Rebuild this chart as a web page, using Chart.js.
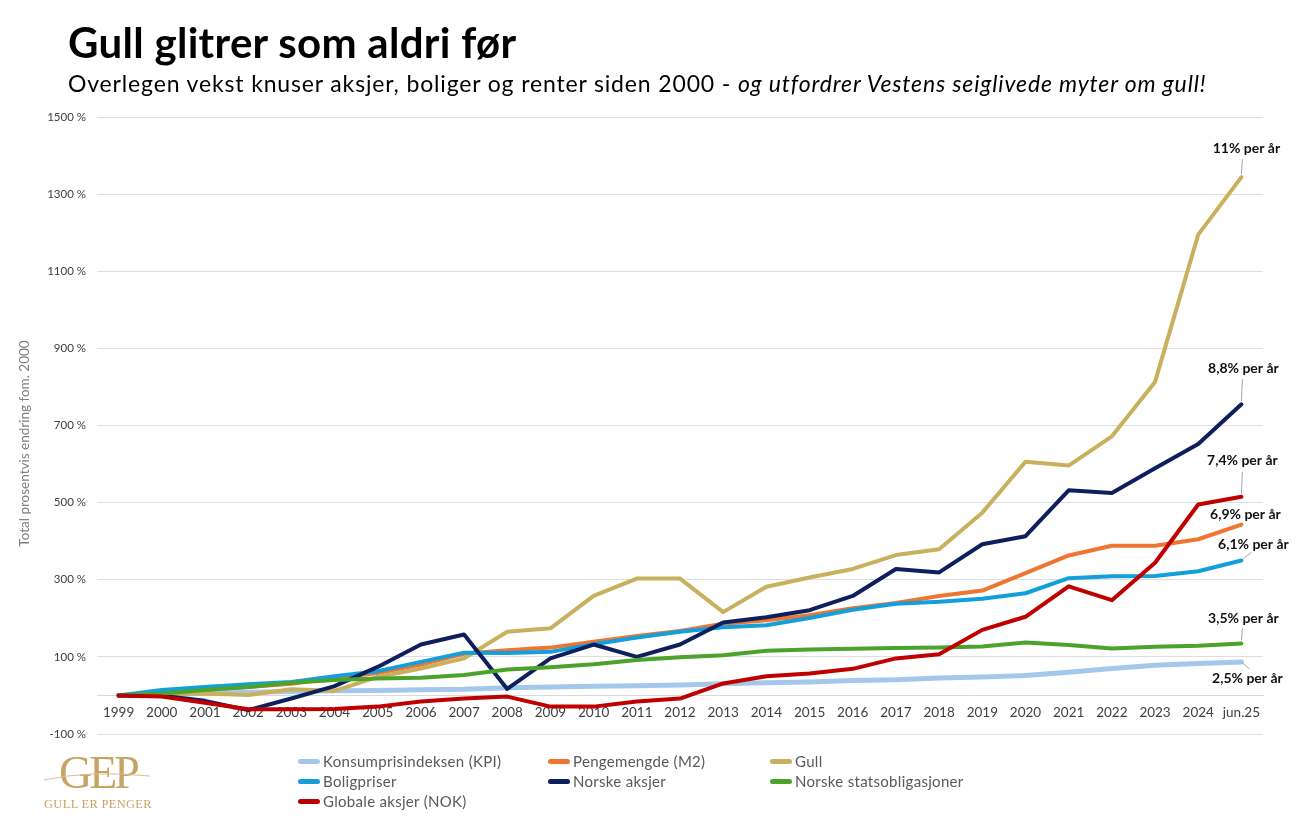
<!DOCTYPE html>
<html lang="no">

<head>
  <meta charset="UTF-8">
  <title>Gull glitrer som aldri før</title>
  <script src="https://cdn.jsdelivr.net/npm/chart.js"></script>
  <style>
    body { margin: 0; background: #ffffff; font-family: Lato, sans-serif; }
    #wrap { position: relative; width: 1300px; height: 835px; }
    #tittel { position: absolute; left: 68px; top: 17px; font-size: 42px; font-weight: 700; color: #000; white-space: nowrap; letter-spacing: 0.3px; }
    #undertittel { position: absolute; left: 68px; top: 69px; font-size: 23px; letter-spacing: 0.85px; color: #000; white-space: nowrap; }
    #undertittel i { font-style: italic; }
    #legende { position: absolute; top: 751px; left: 298px; display: grid; grid-template-columns: 250px 222px 240px; }
    .leg { display: flex; align-items: center; height: 20px; font-size: 15px; letter-spacing: 0.3px; color: #595959; white-space: nowrap; }
    .leg span.strek { display: inline-block; width: 22px; height: 5px; border-radius: 3px; margin-right: 3px; }
    #logo { position: absolute; left: 38px; top: 752px; width: 120px; text-align: center; color: #c8a464; font-family: "Liberation Serif", "DejaVu Serif", serif; }
    #logo .gep { font-size: 46px; letter-spacing: -3px; line-height: 42px; }
    #logo .navn { font-size: 12.5px; letter-spacing: 0.3px; margin-top: 3px; }
  </style>
</head>

<body>
  <div id="wrap">
    <canvas id="grafGull"></canvas>
    <div id="tittel">Gull glitrer som aldri før</div>
    <div id="undertittel">Overlegen vekst knuser aksjer, boliger og renter siden 2000 - <i>og utfordrer Vestens seiglivede myter om gull!</i></div>
    <div id="legende"></div>
    <div id="logo">
      <svg width="120" height="20" style="position:absolute;left:0;top:14px">
        <path d="M6 14 Q 50 4 112 10" stroke="#d9c08f" stroke-width="1" fill="none" />
      </svg>
      <div class="gep">GEP</div>
      <div class="navn">GULL ER PENGER</div>
    </div>
  </div>

  <script>
    // tall lest av fra originalgrafen (prosent endring siden 1999/2000)
    const aar = ['1999', '2000', '2001', '2002', '2003', '2004', '2005', '2006', '2007', '2008', '2009', '2010', '2011',
      '2012', '2013', '2014', '2015', '2016', '2017', '2018', '2019', '2020', '2021', '2022', '2023', '2024', 'jun.25'];

    const kpi = [0, 3, 5, 8, 10, 12, 13, 15, 16, 20, 22, 24, 25, 27, 30, 33, 35, 39, 41, 45, 48, 52, 60, 70, 78, 83, 87];
    const pengemengde = [0, 8, 15, 22, 30, 45, 58, 80, 108, 117, 124, 139, 154, 167, 186, 195, 208, 226, 240, 258, 272, 317, 363, 388, 388, 405, 443];
    const gull = [0, 3, 5, 1, 16, 12, 48, 70, 96, 165, 174, 258, 303, 303, 216, 282, 306, 328, 364, 379, 474, 606, 596, 672, 813, 1195, 1344];
    const boligpriser = [0, 14, 22, 29, 35, 50, 63, 87, 111, 110, 113, 133, 150, 165, 177, 182, 201, 222, 238, 243, 251, 265, 304, 309, 310, 322, 350];
    const norskeAksjer = [0, -1, -14, -38, -8, 24, 74, 132, 158, 17, 96, 132, 100, 132, 189, 203, 221, 258, 328, 319, 392, 413, 532, 525, 589, 652, 755];
    const statsobligasjoner = [0, 5, 14, 22, 33, 40, 44, 46, 53, 67, 73, 81, 92, 99, 104, 116, 119, 121, 123, 124, 127, 137, 131, 122, 126, 129, 135];
    const globaleAksjer = [0, -3, -19, -36, -36, -35, -29, -16, -8, -3, -29, -29, -16, -8, 31, 50, 57, 69, 96, 107, 170, 204, 283, 247, 344, 495, 515];

    const serieNavn = ['Konsumprisindeksen (KPI)', 'Pengemengde (M2)', 'Gull', 'Boligpriser', 'Norske aksjer',
      'Norske statsobligasjoner', 'Globale aksjer (NOK)'];
    const serieData = [kpi, pengemengde, gull, boligpriser, norskeAksjer, statsobligasjoner, globaleAksjer];
    const arligVekst = ['2,5% per år', '6,9% per år', '11% per år', '6,1% per år', '8,8% per år', '3,5% per år', '7,4% per år'];

    const farger = ['#a4c8ec', '#ee7631', '#c8b05c', '#139fdb', '#0d1f5c', '#4ba32b', '#c00000'];

    // plassering av vekst-tekstene i forhold til siste punkt: tekst (tx,ty), strek (x1,y1)-(x2,y2)
    const etikettPos = [
      { tx: 6, ty: 17, strek: [1, 1, 8, 7] },
      { tx: 4, ty: -10, strek: null },
      { tx: 5, ty: -29, strek: [1, -18, 0, -3] },
      { tx: 12, ty: -16, strek: [10, -8, 2, -2] },
      { tx: 2, ty: -36, strek: [1, -25, 0, -3] },
      { tx: 2, ty: -25, strek: [1, -15, 0, -3] },
      { tx: 1, ty: -36, strek: [1, -25, 0, -3] }
    ];

    const vekstEtiketter = {
      id: 'vekstEtiketter',
      afterDatasetsDraw(chart) {
        const ctx = chart.ctx;
        ctx.save();
        chart.data.datasets.forEach((ds, i) => {
          const meta = chart.getDatasetMeta(i);
          const siste = meta.data[meta.data.length - 1];
          const p = etikettPos[i];
          if (p.strek) {
            ctx.strokeStyle = '#a6a6a6';
            ctx.lineWidth = 1;
            ctx.beginPath();
            ctx.moveTo(siste.x + p.strek[0], siste.y + p.strek[1]);
            ctx.lineTo(siste.x + p.strek[2], siste.y + p.strek[3]);
            ctx.stroke();
          }
          ctx.fillStyle = '#111111';
          ctx.font = 'bold 14px Lato';
          ctx.textAlign = 'center';
          ctx.textBaseline = 'middle';
          ctx.fillText(arligVekst[i], siste.x + p.tx, siste.y + p.ty);
        });

        // aksetittel for y-aksen
        const ya = chart.scales.y;
        ctx.translate(25, (ya.top + ya.bottom) / 2 + 18);
        ctx.rotate(-Math.PI / 2);
        ctx.fillStyle = '#7f7f7f';
        ctx.font = '13.5px Lato';
        ctx.textAlign = 'center';
        ctx.textBaseline = 'middle';
        ctx.fillText('Total prosentvis endring fom. 2000', 0, 0);
        ctx.restore();
      }
    };

    const datasets = serieData.map((d, i) => ({
      label: serieNavn[i],
      data: d,
      borderColor: farger[i],
      backgroundColor: farger[i],
      borderWidth: i === 0 ? 5 : 4,
      pointRadius: 0,
      tension: 0,
      borderCapStyle: 'round',
      borderJoinStyle: 'round',
      order: serieData.length - i
    }));

    const graf = new Chart(document.getElementById('grafGull'), {
      type: 'line',
      data: { labels: aar, datasets: datasets },
      options: {
        responsive: true,
        maintainAspectRatio: false,
        animation: false,
        layout: { padding: { left: 0, top: 117, right: 37, bottom: 101 } },
        plugins: {
          legend: { display: false },
          tooltip: { enabled: false }
        },
        scales: {
          x: {
            position: { y: 0 },
            offset: true,
            grid: { display: false, drawTicks: false },
            border: { display: true, color: '#d9d9d9', width: 1 },
            ticks: { color: '#404040', font: { family: 'Lato', size: 13.5 }, padding: 9, maxRotation: 0, autoSkip: false }
          },
          y: {
            min: -100,
            max: 1500,
            grid: { color: '#dedede', lineWidth: 1, drawTicks: false },
            border: { display: false },
            ticks: {
              stepSize: 200,
              color: '#404040',
              font: { family: 'Lato', size: 11.5 },
              padding: 11,
              callback: v => v + ' %'
            },
            afterFit(scale) { scale.width = 97; }
          }
        }
      },
      plugins: [vekstEtiketter]
    });

    // egen legende i tre kolonner
    const legende = document.getElementById('legende');
    graf.data.datasets.forEach(ds => {
      const el = document.createElement('div');
      el.className = 'leg';
      el.innerHTML = `<span class="strek" style="background:${ds.borderColor}"></span>${ds.label}`;
      legende.appendChild(el);
    });
  </script>
</body>

</html>
